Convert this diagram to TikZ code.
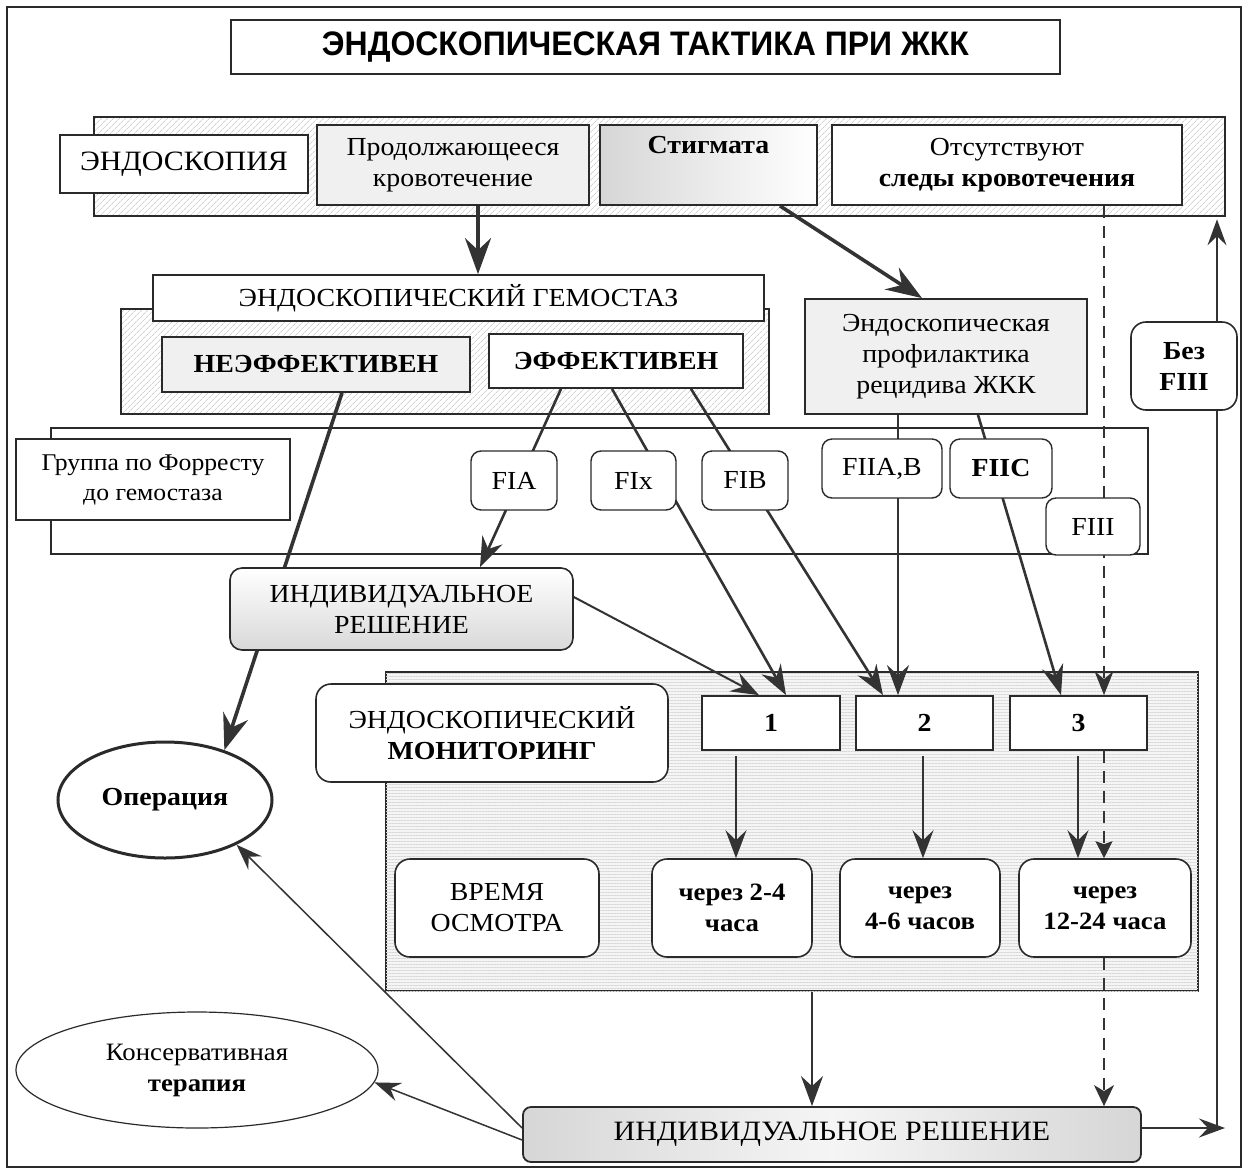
\documentclass[tikz,border=0pt]{standalone}
\usepackage{fontspec}
\usepackage{graphicx}
\setmainfont[FakeStretch=1.07]{Liberation Serif}
\newfontfamily\titlefont{Liberation Sans}
\usetikzlibrary{arrows.meta,patterns.meta,shapes.geometric,calc}
\pgfdeclarelayer{bg}
\pgfdeclarelayer{panels}
\pgfdeclarelayer{edges}
\pgfsetlayers{bg,panels,edges,main}
\definecolor{ink}{HTML}{2A2A2A}
\definecolor{arr}{HTML}{333333}
\definecolor{lightfill}{HTML}{F0F0F0}
\begin{document}
\begin{tikzpicture}[x=1pt,y=-1pt,
  every node/.style={inner sep=0pt, align=center, font=\fontsize{26}{31}\selectfont, text=black},
  wh/.style 2 args={minimum width=#1pt, minimum height=#2pt},
  box/.style={draw=ink, line width=1.8pt, rectangle, fill=white},
  rbox/.style={box, rounded corners=10pt, line width=1.4pt},
  rrbox/.style={box, rounded corners=15pt, line width=1.6pt},
  hatchband/.style={draw=ink, line width=1.8pt, pattern={Lines[angle=45,distance=4pt,line width=0.6pt]}, pattern color=gray!55},
  stripeband/.style={draw=ink, line width=1.8pt, fill=gray!8, postaction={pattern={Lines[angle=0,distance=3pt,line width=0.7pt]}, pattern color=gray!30}},
  thk/.style={draw=arr, line width=3.6pt, -{Stealth[length=36pt,width=26pt,inset=12pt]}},
  med/.style={draw=arr, line width=2.6pt, -{Stealth[length=30pt,width=22pt,inset=10pt]}},
  mid/.style={draw=arr, line width=2pt, -{Stealth[length=28pt,width=21pt,inset=10pt]}},
  thn/.style={draw=arr, line width=1.5pt, -{Stealth[length=26pt,width=19pt,inset=9pt]}},
  dsh/.style={draw=arr, line width=1.2pt, dash pattern=on 12pt off 8pt},
]
\useasboundingbox (0,0) rectangle (1248,1171);
\begin{pgfonlayer}{bg}
\fill[white] (0,0) rectangle (1248,1171);
\end{pgfonlayer}
\draw[ink, line width=2pt] (7,7) rectangle (1241,1167);

% ---------- panels ----------
\begin{pgfonlayer}{panels}
\node[hatchband, wh={1131}{99}] (band1) at (659.5,166.5) {};
\node[hatchband, wh={648}{105}] (band2) at (445,361.5) {};
\node[box, wh={1097}{126}] (band3) at (599.5,491) {};
\node[stripeband, wh={812}{319}] (panel) at (792,831.5) {};
\end{pgfonlayer}

% ---------- nodes ----------
\node[box, line width=1.4pt, wh={829}{54}] (title) at (645.5,47)
  {\titlefont\bfseries\fontsize{34}{36}\selectfont\scalebox{0.94}[1]{ЭНДОСКОПИЧЕСКАЯ ТАКТИКА ПРИ ЖКК}};

\node[box, wh={248}{58}, font=\fontsize{28}{33}\selectfont] (endo) at (184,164) {ЭНДОСКОПИЯ};
\node[box, fill=lightfill, wh={272}{80}] (prod) at (453,165) {Продолжающееся\\кровотечение};
\node[box, left color=gray!32, right color=white, wh={217}{80}] (stig) at (708.5,165) {\textbf{Стигмата}\\\strut};
\node[box, wh={350}{80}] (abs) at (1007,165) {Отсутствуют\\\textbf{следы кровотечения}};

\node[box, wh={611}{46}] (hemo) at (458.5,298) {ЭНДОСКОПИЧЕСКИЙ ГЕМОСТАЗ};
\node[box, fill=lightfill, wh={308}{55}] (neeff) at (316,364.5) {\textbf{НЕЭФФЕКТИВЕН}};
\node[box, wh={254}{54}] (eff) at (616,361) {\textbf{ЭФФЕКТИВЕН}};
\node[box, fill=lightfill, wh={282}{115}] (prof) at (946,356.5) {Эндоскопическая\\профилактика\\рецидива ЖКК};

\node[box, wh={274}{81}, font=\fontsize{24}{30}\selectfont] (group) at (153,479.5) {Группа по Форресту\\до гемостаза};
\node[rbox, wh={86}{59}] (fia) at (514,480.5) {FIA};
\node[rbox, wh={85}{59}] (fix) at (633.5,480.5) {FIx};
\node[rbox, wh={86}{59}] (fib) at (745,480.5) {FIB};
\node[rbox, wh={120}{59}] (fiiab) at (882,468.5) {FIIA,B};
\node[rbox, wh={102}{59}] (fiic) at (1001,468.5) {\textbf{FIIC}};
\node[rbox, wh={94}{57}] (fiii) at (1093,526.5) {FIII};
\node[rrbox, wh={106}{88}] (bez) at (1184,366) {\textbf{Без}\\\textbf{FIII}};

\node[box, rounded corners=12pt, line width=1.6pt, top color=white, bottom color=gray!30, wh={343}{82}] (ind1) at (401.5,609) {ИНДИВИДУАЛЬНОЕ\\РЕШЕНИЕ};
\node[draw=ink, line width=3pt, ellipse, fill=white, wh={214}{116}] (oper) at (165,800) {\textbf{Операция}};

\node[rrbox, wh={352}{98}] (monit) at (492,733) {ЭНДОСКОПИЧЕСКИЙ\\\textbf{МОНИТОРИНГ}};
\node[box, wh={138}{54}] (b1) at (771,723) {\textbf{1}};
\node[box, wh={137}{54}] (b2) at (924.5,723) {\textbf{2}};
\node[box, wh={137}{54}] (b3) at (1078.5,723) {\textbf{3}};
\node[rrbox, wh={204}{98}] (vrem) at (497,908) {ВРЕМЯ\\ОСМОТРА};
\node[rrbox, wh={160}{98}, font=\fontsize{25}{31}\selectfont] (t1) at (732,908) {\textbf{через 2-4}\\\textbf{часа}};
\node[rrbox, wh={160}{98}, font=\fontsize{25}{31}\selectfont] (t2) at (920,908) {\textbf{через}\\\textbf{4-6 часов}};
\node[rrbox, wh={172}{98}, font=\fontsize{25}{31}\selectfont] (t3) at (1105,908) {\textbf{через}\\\textbf{12-24 часа}};

\node[box, rounded corners=8pt, left color=gray!32, right color=gray!32, middle color=gray!8, wh={618}{55}, font=\fontsize{28}{31}\selectfont] (ind2) at (832,1134.5) {ИНДИВИДУАЛЬНОЕ РЕШЕНИЕ};
\node[draw=ink, line width=1.2pt, ellipse, fill=white, wh={362}{116}, font=\fontsize{25}{31}\selectfont] (cons) at (197,1070) {Консервативная\\\textbf{терапия}};

\coordinate (rt) at (1225,1128);
\coordinate (up) at (1217,1128);

% ---------- connectors ----------
\begin{pgfonlayer}{edges}
\draw[thk] ([xshift=25pt]prod.south) -- ([xshift=19.5pt]hemo.north);
\draw[thk] ([xshift=71.5pt]stig.south) -- ([xshift=-24pt]prof.north);
\draw[thk] ([xshift=26pt]neeff.south) -- (oper.40);
\draw[med] ([xshift=-55pt]eff.south) -- ([xshift=78.5pt]ind1.north);
\draw[med] ([xshift=-4pt]eff.south) -- ([xshift=15pt]b1.north);
\draw[med] ([xshift=75pt]eff.south) -- ([xshift=-41.5pt]b2.north);
\draw[mid] ([yshift=12pt]ind1.east) -- ([xshift=-12pt]b1.north);
\draw[med] ([xshift=-48pt]prof.south) -- ([xshift=-26.5pt]b2.north);
\draw[med] ([xshift=32pt]prof.south) -- ([xshift=-17.5pt]b3.north);
\draw[dsh, -{Stealth[length=24pt,width=19pt,inset=8pt]}] ([xshift=97pt]abs.south) -- ([xshift=25.5pt]b3.north);
\draw[dsh, -{Stealth[length=17pt,width=17pt,inset=3pt]}] ([xshift=25.5pt]b3.south) -- ([xshift=-1pt]t3.north);
\draw[dsh, -{Stealth[length=21pt,width=20pt,inset=6pt]}] ([xshift=-1pt]t3.south) -- ([xshift=272pt]ind2.north);
\draw[mid, shorten <=5pt] ([xshift=-35pt]b1.south) -- ([xshift=4pt]t1.north);
\draw[mid, shorten <=5pt] ([xshift=-1.5pt]b2.south) -- ([xshift=3pt]t2.north);
\draw[mid, shorten <=5pt] ([xshift=-0.5pt]b3.south) -- ([xshift=-27pt]t3.north);
\draw[med] ([xshift=20pt]panel.south) -- ([xshift=-20pt]ind2.north);
\draw[thn] ([yshift=-5.5pt]ind2.west) -- (cons.-4);
\draw[thn] ([yshift=6.5pt]ind2.west) -- (oper.-32);
\draw[thn] ([yshift=6.5pt]ind2.east) -- (rt);
\draw[thn, shorten >=3pt] (up) -- (up |- band1.south);
\end{pgfonlayer}
\end{tikzpicture}
\end{document}
